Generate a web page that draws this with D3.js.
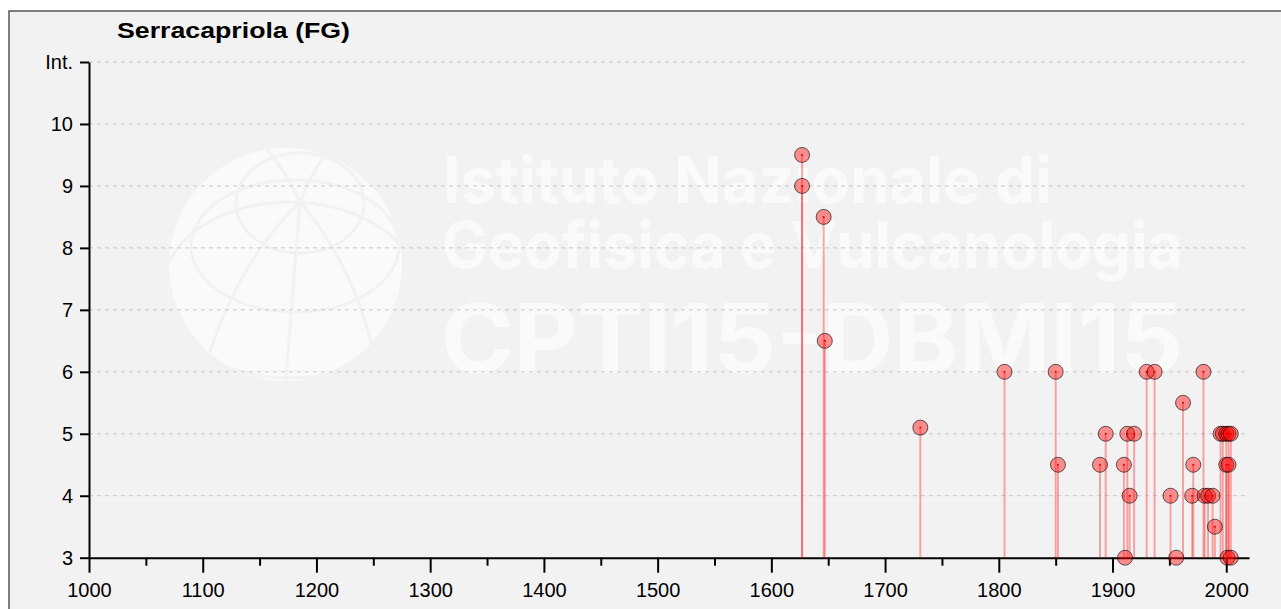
<!DOCTYPE html>
<html>
<head>
<meta charset="utf-8">
<script src="https://cdn.jsdelivr.net/npm/d3@7"></script>
<style>
  body { margin: 0; background: #fff; }
  svg { display: block; }
  .axis text { font-family: "Liberation Sans", Arial, sans-serif; font-size: 20px; fill: #000; }
  .axis path, .axis line { stroke: #000; stroke-width: 2; }
</style>
</head>
<body>
<script>
// earthquake years felt at Serracapriola and their intensity
var years = [1627, 1627, 1646, 1647, 1731, 1805, 1850, 1852, 1889, 1894,
             1910, 1911, 1913, 1915, 1919, 1930, 1937, 1951, 1956, 1962,
             1970, 1971, 1980, 1981, 1984, 1988, 1990, 1995, 1997, 2000,
             2002, 2004, 2000, 2002, 2001, 2004];
var intensities = [9.5, 9, 8.5, 6.5, 5.1, 6, 6, 4.5, 4.5, 5,
                   4.5, 3, 5, 4, 5, 6, 6, 4, 3, 5.5,
                   4, 4.5, 6, 4, 4, 4, 3.5, 5, 5, 5,
                   5, 5, 4.5, 4.5, 3, 3];
var yTicks = [3, 4, 5, 6, 7, 8, 9, 10, 11];
var xTicks = [1000, 1100, 1200, 1300, 1400, 1500, 1600, 1700, 1800, 1900, 2000];
var xMinor = [1050, 1150, 1250, 1350, 1450, 1550, 1650, 1750, 1850, 1950];

function plot_it () {
    var width = 1281, height = 609;
    var svg = d3.select('body').append('svg').attr('width', width).attr('height', height);

    // panel
    svg.append('rect')
        .attr('x', 9).attr('y', 11)
        .attr('width', width + 20).attr('height', height + 20)
        .attr('fill', '#f2f2f2')
        .attr('stroke', '#555').attr('stroke-width', 1.5);

    var x = d3.scaleLinear().domain([1000, 2020]).range([89, 1249]);
    var y = d3.scaleLinear().domain([3, 11]).range([557.7, 62]);

    // watermark: globe + text
    var wm = svg.append('g').attr('id', 'watermark');
    wm.append('clipPath').attr('id', 'globeclip')
        .append('circle').attr('cx', 285.5).attr('cy', 264.5).attr('r', 116.5);
    wm.append('circle')
        .attr('cx', 285.5).attr('cy', 264.5).attr('r', 116.5)
        .attr('fill', '#fafafa');
    var gl = wm.append('g').attr('clip-path', 'url(#globeclip)')
        .attr('fill', 'none').attr('stroke', '#f2f2f2').attr('stroke-width', 3);
    gl.append('ellipse').attr('cx', 300).attr('cy', 203).attr('rx', 64).attr('ry', 50);
    gl.append('ellipse').attr('cx', 295).attr('cy', 246).attr('rx', 104).attr('ry', 66);
    gl.append('ellipse').attr('cx', 290).attr('cy', 290).attr('rx', 128).attr('ry', 88);
    gl.append('path').attr('d', 'M300,202 Q240,260 210,352');
    gl.append('path').attr('d', 'M300,202 Q292,300 285,390');
    gl.append('path').attr('d', 'M300,202 Q350,260 372,345');
    gl.append('path').attr('d', 'M300,202 Q285,170 266,148');
    gl.append('path').attr('d', 'M300,202 Q310,175 326,154');

    var wmLines = [
        {t: 'Istituto Nazionale di', x: 443, y: 203, s: 64, w: 609},
        {t: 'Geofisica e Vulcanologia', x: 442, y: 268, s: 64, w: 741},
        {t: 'CPTI15-DBMI15', x: 441, y: 373, s: 96, w: 742}
    ];
    wm.selectAll('.wmtext').data(wmLines).enter().append('text')
        .attr('class', 'wmtext')
        .attr('x', function (d) { return d.x; })
        .attr('y', function (d) { return d.y; })
        .attr('textLength', function (d) { return d.w; })
        .attr('lengthAdjust', 'spacingAndGlyphs')
        .attr('font-family', 'Inter, "Open Sans", sans-serif')
        .attr('font-weight', 700)
        .attr('font-size', function (d) { return d.s; })
        .attr('fill', '#fafafa')
        .text(function (d) { return d.t; });

    // gridlines
    svg.append('g').selectAll('line')
        .data(yTicks.filter(function (d) { return d > 3; }))
        .enter().append('line')
        .attr('x1', x(1000)).attr('x2', x(2020))
        .attr('y1', function (d) { return y(d); })
        .attr('y2', function (d) { return y(d); })
        .attr('stroke', '#c8c8c8')
        .attr('stroke-dasharray', '4,4');

    // axes
    svg.append('g').attr('class', 'axis')
        .attr('transform', 'translate(0,' + y(3) + ')')
        .call(d3.axisBottom(x).tickValues(xTicks).tickFormat(d3.format('d'))
            .tickSize(15).tickSizeOuter(0).tickPadding(10));
    svg.append('g').attr('class', 'axis minor')
        .attr('transform', 'translate(0,' + y(3) + ')')
        .call(d3.axisBottom(x).tickValues(xMinor).tickFormat('')
            .tickSize(8).tickSizeOuter(0))
        .select('.domain').remove();

    svg.append('g').attr('class', 'axis')
        .attr('transform', 'translate(' + x(1000) + ',0)')
        .call(d3.axisLeft(y).tickValues(yTicks)
            .tickFormat(function (d) { return d === 11 ? 'Int.' : d; })
            .tickSize(9).tickSizeOuter(0).tickPadding(7));

    // stems
    var data = years.map(function (yr, i) { return {year: yr, intensity: intensities[i]}; });

    svg.append('g').selectAll('line')
        .data(data).enter().append('line')
        .attr('x1', function (d) { return x(d.year); })
        .attr('x2', function (d) { return x(d.year); })
        .attr('y1', function (d) { return y(d.intensity); })
        .attr('y2', y(3))
        .attr('stroke', 'rgba(255,0,0,0.33)')
        .attr('stroke-width', 2);

    var pts = svg.append('g').selectAll('g')
        .data(data).enter().append('g')
        .attr('transform', function (d) {
            return 'translate(' + x(d.year) + ',' + y(d.intensity) + ')';
        });
    pts.append('circle')
        .attr('r', 7.5)
        .attr('fill', 'rgba(255,0,0,0.42)')
        .attr('stroke', 'rgba(0,0,0,0.6)')
        .attr('stroke-width', 1);
    pts.append('circle')
        .attr('r', 1)
        .attr('fill', '#e00000');

    // title
    svg.append('text')
        .attr('x', 117).attr('y', 38)
        .attr('font-family', '"Liberation Sans", Arial, sans-serif')
        .attr('font-weight', 'bold')
        .attr('font-size', 22)
        .attr('textLength', 233)
        .attr('lengthAdjust', 'spacingAndGlyphs')
        .text('Serracapriola (FG)');
}
plot_it();
</script>
</body>
</html>
